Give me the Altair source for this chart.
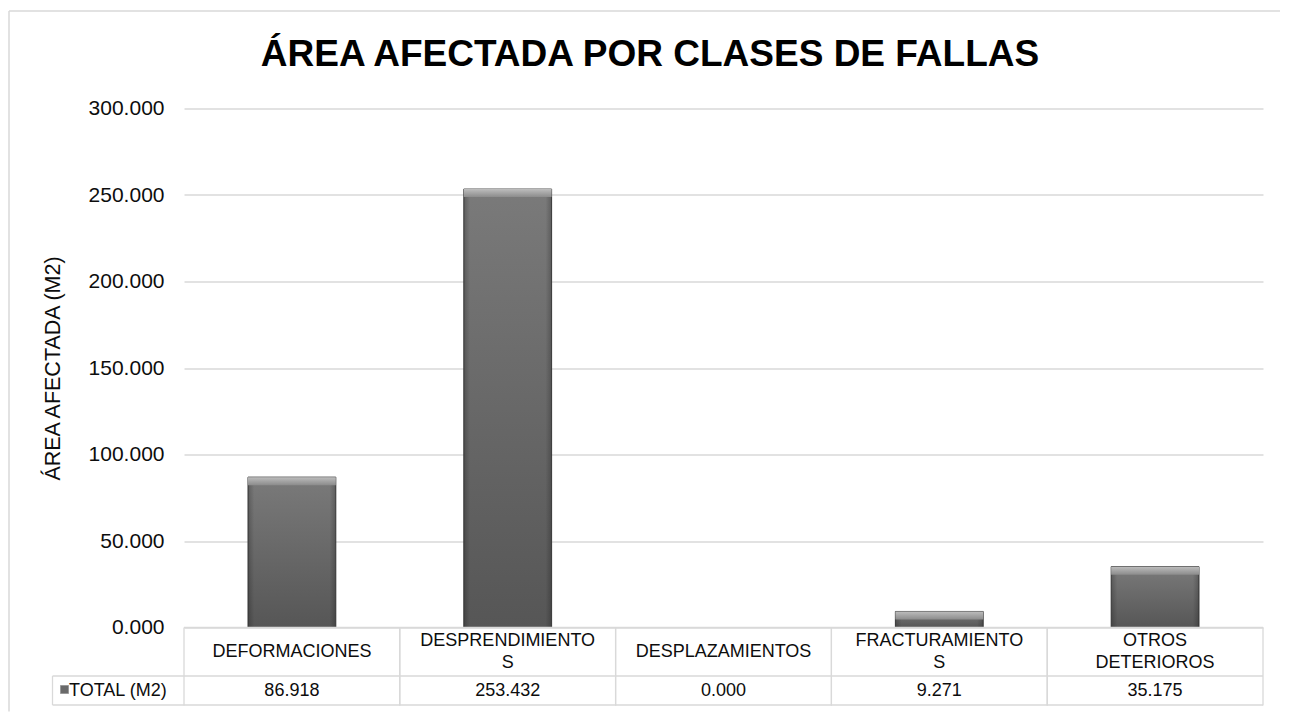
import altair as alt
import pandas as pd

# ---------------- data ----------------
categories = ["DEFORMACIONES", "DESPRENDIMIENTOS", "DESPLAZAMIENTOS",
              "FRACTURAMIENTOS", "OTROS DETERIOROS"]
label_line1 = ["DEFORMACIONES", "DESPRENDIMIENTO", "DESPLAZAMIENTOS",
               "FRACTURAMIENTO", "OTROS"]
label_line2 = ["", "S", "", "S", "DETERIOROS"]
values = [86.918, 253.432, 0.000, 9.271, 35.175]
y_ticks = [0, 50, 100, 150, 200, 250, 300]
series_name = "TOTAL (M2)"
title_text = "ÁREA AFECTADA POR CLASES DE FALLAS"
y_title = "ÁREA AFECTADA (M2)"

# ---------------- layout / style ----------------
W, H = 1079, 519
FONT = "Liberation Sans"
GRID = "#d9d9d9"
TXT = "#0d0d0d"
BAR_W = alt.RelativeBandSize(0.407)

df = pd.DataFrame({"cat": categories, "l1": label_line1, "l2": label_line2,
                   "value": values})
df["value_text"] = [f"{v:.3f}" for v in values]
one = pd.DataFrame({"k": [0]})

x_scale = alt.Scale(paddingInner=0, paddingOuter=0)
y_scale = alt.Scale(domain=[0, 300], nice=False)
y_axis = alt.Axis(values=y_ticks, format=".3f", title=y_title,
                  grid=True, gridColor=GRID, gridWidth=1.3,
                  domain=False, ticks=False, tickSize=0, labelPadding=20,
                  labelFont=FONT, labelFontSize=21, labelColor=TXT,
                  titleFont=FONT, titleFontSize=21.5, titleFontWeight="normal",
                  titleColor=TXT, titleX=-131, titleY=H / 2, titleAngle=270,
                  titleAlign="center", titleBaseline="middle")


def xenc(bp=None):
    if bp is None:
        return alt.X("cat:N", sort=categories, axis=None, scale=x_scale)
    return alt.X("cat:N", sort=categories, axis=None, scale=x_scale, bandPosition=bp)


def yenc():
    return alt.Y("value:Q", scale=y_scale, axis=y_axis)


base = alt.Chart(df)

face_grad = alt.LinearGradient(
    gradient="linear",
    stops=[alt.GradientStop(color="#7a7a7a", offset=0),
           alt.GradientStop(color="#565656", offset=1)],
    x1=0, x2=0, y1=0, y2=1)
side_grad = alt.LinearGradient(
    gradient="linear",
    stops=[alt.GradientStop(color="rgba(0,0,0,0.22)", offset=0),
           alt.GradientStop(color="rgba(0,0,0,0)", offset=0.07),
           alt.GradientStop(color="rgba(0,0,0,0)", offset=0.93),
           alt.GradientStop(color="rgba(0,0,0,0.22)", offset=1)],
    x1=0, x2=1, y1=0, y2=0)
bevel_grad = alt.LinearGradient(
    gradient="linear",
    stops=[alt.GradientStop(color="#bdbdbd", offset=0),
           alt.GradientStop(color="#8c8c8c", offset=1)],
    x1=0, x2=0, y1=0, y2=1)

bars = base.mark_bar(width=BAR_W, fill=face_grad, stroke="#3f3f3f", strokeWidth=1).encode(
    x=xenc(), y=yenc())

sides = base.transform_filter("datum.value > 0").mark_bar(width=BAR_W, fill=side_grad).encode(
    x=xenc(), y=yenc())

bevel = base.transform_filter("datum.value > 0").mark_bar(
    width=BAR_W, fill=bevel_grad, y2Offset=8).encode(
    x=xenc(), y=yenc(), y2="value:Q")

# ---------------- data table ----------------
LW = 1.3
vl_left = base.mark_rule(color=GRID, strokeWidth=LW).encode(
    x=xenc(0), y=alt.value(H), y2=alt.value(H + 78))
vl_right = base.mark_rule(color=GRID, strokeWidth=LW).encode(
    x=xenc(1), y=alt.value(H), y2=alt.value(H + 78))

one_c = alt.Chart(one)
hl_top = one_c.mark_rule(color=GRID, strokeWidth=LW).encode(
    x=alt.value(0), x2=alt.value(W), y=alt.value(H))
hl_mid = one_c.mark_rule(color=GRID, strokeWidth=LW).encode(
    x=alt.value(-131.5), x2=alt.value(W), y=alt.value(H + 48.5))
hl_bot = one_c.mark_rule(color=GRID, strokeWidth=LW).encode(
    x=alt.value(-131.5), x2=alt.value(W), y=alt.value(H + 77.5))
vl_cell = one_c.mark_rule(color=GRID, strokeWidth=LW).encode(
    x=alt.value(-131.5), y=alt.value(H + 48.5), y2=alt.value(H + 77.5))

txt_kw = dict(font=FONT, fontSize=18, baseline="middle", align="center", color=TXT)
cat_single = base.transform_filter("datum.l2 == ''").mark_text(**txt_kw).encode(
    x=xenc(), y=alt.value(H + 24), text="l1:N")
cat_first = base.transform_filter("datum.l2 != ''").mark_text(**txt_kw).encode(
    x=xenc(), y=alt.value(H + 13.5), text="l1:N")
cat_second = base.transform_filter("datum.l2 != ''").mark_text(**txt_kw).encode(
    x=xenc(), y=alt.value(H + 35), text="l2:N")
val_text = base.mark_text(**txt_kw).encode(
    x=xenc(), y=alt.value(H + 63), text="value_text:N")

legend_sq = one_c.mark_square(size=64, fill="#6a6a6a", stroke="#9a9a9a",
                              strokeWidth=1, opacity=1).encode(
    x=alt.value(-119.5), y=alt.value(H + 62))
legend_txt = one_c.transform_calculate(t=f"'{series_name}'").mark_text(
    font=FONT, fontSize=18, baseline="middle", align="left", color=TXT).encode(
    x=alt.value(-115), y=alt.value(H + 63), text="t:N")

# ---------------- title & frame ----------------
title = one_c.transform_calculate(t=f"'{title_text}'").mark_text(
    font=FONT, fontSize=37, fontWeight="bold", align="center",
    baseline="alphabetic", color="#000000").encode(
    x=alt.value(466), y=alt.value(-42.5), text="t:N")

frame_left = one_c.mark_rule(color=GRID, strokeWidth=1.5).encode(
    x=alt.value(-175), y=alt.value(-97.5), y2=alt.value(H + 84))
frame_top = one_c.mark_rule(color=GRID, strokeWidth=1.5).encode(
    x=alt.value(-175), x2=alt.value(W + 17), y=alt.value(-97.5))

chart = alt.layer(
    bars, sides, bevel,
    vl_left, vl_right, hl_top, hl_mid, hl_bot, vl_cell,
    cat_single, cat_first, cat_second, val_text, legend_sq, legend_txt,
    title, frame_left, frame_top,
).properties(
    width=W, height=H,
    padding={"left": 0, "top": 1.5, "right": 0, "bottom": 0},
).configure_view(stroke=None)

chart.save("out.html", embed_options={"renderer": "svg", "actions": False})
